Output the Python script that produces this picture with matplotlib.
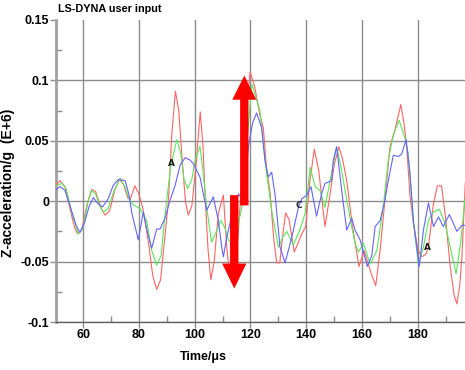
import matplotlib
matplotlib.use("Agg")
import matplotlib.pyplot as plt
from matplotlib.patches import FancyArrow
from matplotlib.ticker import MultipleLocator

# ─────────────────────────────────────────────
# DATA
# ─────────────────────────────────────────────
red_t = [50, 51.8, 53.5, 55.5, 57, 58, 59.5, 61.5, 63.1, 64.5, 66.5, 67.9, 69.5, 71.5, 73,
         74.5, 76, 76.8, 78.6, 80, 81.6, 83.5, 85, 86.4, 87.8, 89.3, 90.6, 91.8, 93.1, 94.3,
         95.5, 96.7, 97.7, 99, 100.5, 102, 103, 103.7, 104.8, 105.8, 107, 108.5, 110.3, 111.5,
         112.5, 114, 115.5, 117, 118.5, 119.9, 121.5, 123.4, 124.6, 125.8, 127, 128.3, 129.4,
         130.5, 131.5, 132.6, 133.8, 135.7, 137, 138.4, 139.8, 141.2, 142.9, 144.5, 146.7,
         148.5, 150, 151.7, 153, 154.5, 156.5, 158.9, 160.8, 163, 164.9, 166.5, 168.2, 170,
         171.8, 173.9, 175, 176, 177.2, 178.4, 180, 181.4, 182.8, 183.8, 185.6, 187, 188.5,
         190, 191.5, 193, 194, 195, 195.8, 196.5, 197]
red_a = [0.013, 0.017, 0.012, -0.008, -0.022, -0.027, -0.024, -0.002, 0.0097, 0.008, -0.006,
         -0.0116, -0.008, 0.010, 0.018, 0.014, 0.003, 0.001, 0.0127, 0.006, -0.0075, -0.035,
         -0.062, -0.073, -0.065, -0.030, 0.0, 0.055, 0.091, 0.075, 0.035, 0.0, -0.0116, -0.004,
         0.030, 0.074, 0.045, 0.0066, -0.040, -0.065, -0.050, -0.010, 0.005, -0.038, -0.060,
         -0.058, -0.030, 0.020, 0.075, 0.107, 0.095, 0.071, 0.061, 0.026, 0.008, -0.030,
         -0.051, -0.051, -0.030, -0.0097, -0.015, -0.042, -0.035, -0.027, -0.021, 0.015,
         0.043, 0.025, -0.021, 0.005, 0.030, 0.045, 0.035, 0.017, -0.020, -0.054, -0.041,
         -0.058, -0.070, -0.040, 0.001, 0.045, 0.059, 0.080, 0.065, 0.045, 0.004, -0.018,
         -0.040, -0.046, -0.044, -0.038, -0.002, 0.0127, 0.0127, -0.015, -0.052, -0.078,
         -0.085, -0.070, -0.046, -0.010, 0.015]

green_t = [50, 52.4, 54, 56, 58.3, 60, 61.8, 63.1, 64.5, 66, 67.3, 69, 71, 73.3, 75, 76.5, 78,
           80.4, 82.8, 84.5, 86.4, 88, 89, 90, 91.5, 93.6, 95, 96.2, 97.5, 99, 100.2, 101.9,
           103, 104.3, 106.1, 107.8, 109.4, 110.8, 112.1, 113.5, 115.5, 117.5, 118.8, 120.5,
           122.2, 123.4, 124.6, 125.8, 127.6, 130, 131.5, 133, 135.4, 137.5, 139.6, 141.4,
           143.2, 144.9, 146.7, 148.8, 150.9, 152.5, 153.9, 155.8, 157.5, 158.7, 160.5, 162.9,
           165.3, 167.6, 169.4, 171.2, 173.3, 175.4, 176.5, 178.4, 180.2, 182, 183.8, 185.5,
           187.7, 189.7, 191.8, 193.7, 195.3, 197]
green_a = [0.012, 0.015, 0.010, -0.010, -0.027, -0.022, 0.0, 0.009, 0.006, -0.004, -0.009,
           -0.006, 0.008, 0.019, 0.012, 0.002, -0.003, -0.006, -0.016, -0.040, -0.053, -0.045,
           -0.020, 0.001, 0.030, 0.051, 0.040, 0.018, 0.0105, 0.018, 0.034, 0.0455, 0.025,
           -0.005, -0.034, -0.025, -0.016, -0.022, -0.032, -0.035, -0.020, 0.001, 0.050, 0.097,
           0.084, 0.075, 0.048, 0.023, -0.0075, -0.038, -0.030, -0.025, -0.036, -0.025, -0.010,
           0.028, 0.012, 0.009, -0.005, 0.020, 0.045, 0.028, 0.009, -0.015, -0.035, -0.042,
           -0.035, -0.052, -0.041, -0.005, 0.034, 0.055, 0.067, 0.052, 0.040, -0.018, -0.052,
           -0.038, -0.016, -0.009, -0.0066, -0.018, -0.040, -0.060, -0.035, 0.0036]

blue_t = [50, 51.8, 53.5, 55.5, 57.5, 58.9, 60.5, 62.2, 63.7, 65.3, 67, 69, 70.8, 72.7, 75.1,
          76.5, 77.5, 79.8, 81.6, 83, 84.6, 86.4, 87.6, 89.4, 91.2, 93, 94.8, 96.6, 98.4, 99.5,
          101.9, 103.2, 104.3, 106.7, 108.5, 109.7, 110.3, 111.5, 113.5, 115.7, 117.2, 119.3,
          120.8, 122.2, 124, 125.2, 126.4, 127.6, 128.8, 130.6, 132.4, 134.8, 137.2, 138.4,
          140.2, 141.7, 143.7, 145.5, 146.7, 149.1, 149.7, 150.9, 152.7, 154.5, 156.3, 157.5,
          159.3, 161.9, 163.5, 164.7, 166.5, 168.2, 169.4, 171.2, 173, 174.2, 175.8, 177.2,
          178.5, 180.5, 182, 183.8, 185.6, 187.4, 189.1, 191.3, 194, 195.8, 197]
blue_a = [0.009, 0.012, 0.009, -0.005, -0.020, -0.026, -0.018, -0.004, 0.003, -0.002, -0.0047,
          0.002, 0.013, 0.018, 0.017, 0.005, -0.010, -0.032, -0.009, -0.025, -0.039, -0.023,
          -0.023, -0.014, 0.001, 0.013, 0.030, 0.036, 0.034, 0.031, 0.020, 0.005, -0.0075,
          0.0036, -0.016, -0.038, -0.046, -0.030, -0.010, 0.006, 0.001, 0.045, 0.065, 0.073,
          0.061, 0.034, 0.020, 0.024, 0.006, -0.038, -0.051, -0.030, -0.005, 0.002, 0.005,
          0.012, -0.0124, 0.006, 0.0147, 0.017, 0.034, 0.045, 0.009, -0.024, -0.014, -0.024,
          -0.032, -0.054, -0.045, -0.021, -0.016, 0.001, 0.017, 0.038, 0.037, 0.039, 0.051,
          0.023, -0.018, -0.054, -0.024, -0.0014, -0.021, -0.013, -0.021, -0.011, -0.025,
          -0.020, -0.020]

x_ticks = [60, 80, 100, 120, 140, 160, 180]
y_ticks = [-0.1, -0.05, 0, 0.05, 0.1, 0.15]
y_tick_labels = ["-0.1", "-0.05", "0", "0.05", "0.1", "0.15"]

# point labels on the curves: (text, t, value)
point_labels = [("A", 91.8, 0.031), ("C", 137.5, -0.0035), ("A", 183.5, -0.038)]

FONT = ["Liberation Sans Narrow", "Liberation Sans", "DejaVu Sans"]
GRID = "#8c8c8c"

# ─────────────────────────────────────────────
# FIGURE
# ─────────────────────────────────────────────
fig = plt.figure(figsize=(4.65, 3.70), dpi=100)
ax = fig.add_axes([0.1204, 0.1297, 0.8796, 0.8163])

ax.plot(red_t, red_a, color="#ff6464", lw=0.8, zorder=3)
ax.plot(green_t, green_a, color="#5ce65c", lw=0.8, zorder=3)
ax.plot(blue_t, blue_a, color="#6464ff", lw=0.8, zorder=4)

ax.set_xlim(50.3, 196.9)
ax.set_ylim(-0.1, 0.15)

ax.set_xticks(x_ticks)
ax.set_yticks(y_ticks)
ax.set_yticklabels(y_tick_labels)
ax.xaxis.set_minor_locator(MultipleLocator(10))
ax.yaxis.set_minor_locator(MultipleLocator(0.025))

ax.tick_params(which="major", direction="out", length=4, width=1, color=GRID,
               labelsize=9, pad=1)
ax.tick_params(which="minor", direction="in", length=4, width=1, color=GRID)
for lab in ax.get_xticklabels() + ax.get_yticklabels():
    lab.set_fontweight("bold")
    lab.set_family(FONT)

ax.grid(True, which="major", color=GRID, lw=1)
# no line along the top edge
ax.get_ygridlines()[-1].set_visible(False)

for side in ("top", "right"):
    ax.spines[side].set_visible(False)
ax.spines["left"].set_color("#a0a0a0")
ax.spines["left"].set_linewidth(2)
ax.spines["bottom"].set_color("#606060")
ax.spines["bottom"].set_linewidth(1)

ax.set_xlabel("Time/μs", fontsize=9, fontweight="bold", family=FONT)
ax.xaxis.set_label_coords(0.36, -0.095)
ax.set_ylabel("Z-acceleration/g  (E+6)", fontsize=10, fontweight="bold", family=FONT)
ax.yaxis.set_label_coords(-0.1, 0.46)

fig.text(0.124, 0.963, "LS-DYNA user input", fontsize=7.8, fontweight="bold",
         family=FONT, ha="left", va="bottom")

for txt, t, a in point_labels:
    ax.text(t, a, txt, fontsize=6.5, fontweight="bold", color="#202020",
            ha="center", va="center", zorder=6)

# big red arrows
ax.add_patch(FancyArrow(117.8, -0.0035, 0, 0.1075, width=3.0, head_width=8.6,
                        head_length=0.02, length_includes_head=True,
                        color="#ff0000", lw=0, zorder=8))
ax.add_patch(FancyArrow(114.2, 0.005, 0, -0.0773, width=3.0, head_width=8.7,
                        head_length=0.0207, length_includes_head=True,
                        color="#ff0000", lw=0, zorder=8))

fig.savefig("out.png", dpi=100)
